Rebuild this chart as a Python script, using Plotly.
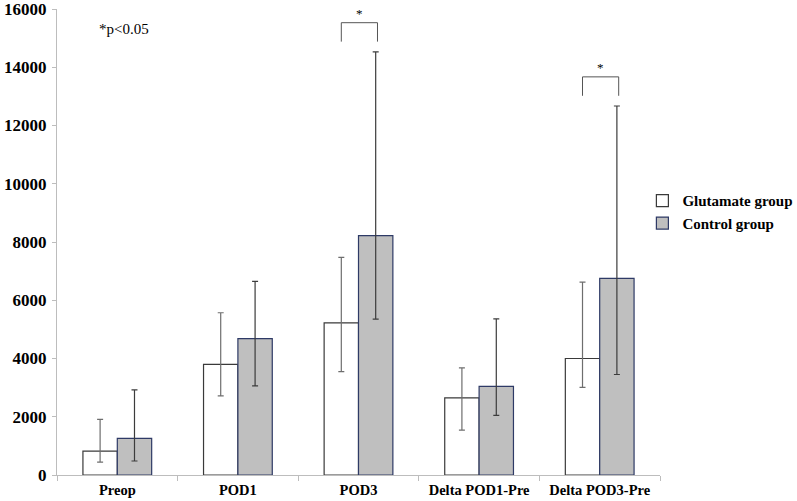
import plotly.graph_objects as go

categories = ["Preop", "POD1", "POD3", "Delta POD1-Pre", "Delta POD3-Pre"]
glutamate_mean = [820, 3800, 5220, 2650, 4000]
glutamate_upper = [1910, 5570, 7470, 3680, 6620]
glutamate_lower = [440, 2720, 3550, 1540, 3010]
control_mean = [1260, 4680, 8220, 3040, 6750]
control_upper = [2920, 6650, 14530, 5360, 12670]
control_lower = [480, 3060, 5350, 2050, 3450]
significant = ["POD3", "Delta POD3-Pre"]
y_ticks = [0, 2000, 4000, 6000, 8000, 10000, 12000, 14000, 16000]
y_tick_labels = [str(v) for v in y_ticks]

serif = "Liberation Serif, Times New Roman, serif"

fig = go.Figure()
fig.add_trace(go.Bar(
    name="Glutamate group", x=categories, y=glutamate_mean,
    marker=dict(color="white", line=dict(color="#3a3a3a", width=1.2)),
    error_y=dict(type="data", symmetric=False,
                 array=[u - m for u, m in zip(glutamate_upper, glutamate_mean)],
                 arrayminus=[m - l for m, l in zip(glutamate_mean, glutamate_lower)],
                 color="#6e6e6e", thickness=1.2, width=3),
))
fig.add_trace(go.Bar(
    name="Control group", x=categories, y=control_mean,
    marker=dict(color="#bfbfbf", line=dict(color="#2e3a66", width=1.2)),
    error_y=dict(type="data", symmetric=False,
                 array=[u - m for u, m in zip(control_upper, control_mean)],
                 arrayminus=[m - l for m, l in zip(control_mean, control_lower)],
                 color="#3c3c3c", thickness=1.2, width=3),
))

bargap = 0.43
half = (1 - bargap) / 4
shapes = []
annotations = []
for cat in significant:
    i = categories.index(cat)
    top = max(control_upper[i], glutamate_upper[i]) + 1000
    bottom = top - 650
    x0, x1 = i - half, i + half + 0.015
    shapes.append(dict(type="path", xref="x", yref="y",
                       path=f"M {x0} {bottom} L {x0} {top} L {x1} {top} L {x1} {bottom}",
                       line=dict(color="#555555", width=1)))
    annotations.append(dict(x=(x0 + x1) / 2, y=top, xref="x", yref="y", text="*",
                            showarrow=False, yanchor="bottom",
                            font=dict(family=serif, size=13, color="black")))

annotations.append(dict(x=0.067, y=0.958, xref="paper", yref="paper", text="*p<0.05",
                        showarrow=False, xanchor="left", yanchor="middle",
                        font=dict(family=serif, size=15, color="black")))

fig.update_layout(
    width=797, height=501,
    margin=dict(l=57, r=137, t=9, b=26, autoexpand=False),
    paper_bgcolor="white", plot_bgcolor="white",
    barmode="group", bargap=bargap, bargroupgap=0,
    showlegend=True,
    legend=dict(xref="container", yref="container", x=0.806, y=0.632,
                xanchor="left", yanchor="top",
                font=dict(family=serif, size=15, color="black", weight="bold"),
                itemwidth=30, tracegroupgap=4),
    shapes=shapes, annotations=annotations,
    font=dict(family=serif, color="black"),
)
fig.update_yaxes(range=[0, 16000], tickvals=y_ticks, ticktext=y_tick_labels,
                 showgrid=False, automargin=False, ticklabeloverflow="allow",
                 showline=True, linecolor="#bdbdbd", linewidth=1,
                 ticks="outside", ticklen=4, tickcolor="#bdbdbd",
                 tickfont=dict(family=serif, size=17, color="black", weight="bold"),
                 zeroline=False, ticklabelstandoff=2)
fig.update_xaxes(showgrid=False, showline=True, linecolor="#bdbdbd", linewidth=1,
                 automargin=False, ticklabeloverflow="allow",
                 ticks="outside", ticklen=5, tickcolor="#bdbdbd", tickson="boundaries",
                 tickfont=dict(family=serif, size=14.5, color="black", weight="bold"),
                 ticklabelstandoff=2)

fig.write_html("out.html", config={"displayModeBar": False},
               post_script="document.body.style.margin='0';document.body.style.padding='0';")
